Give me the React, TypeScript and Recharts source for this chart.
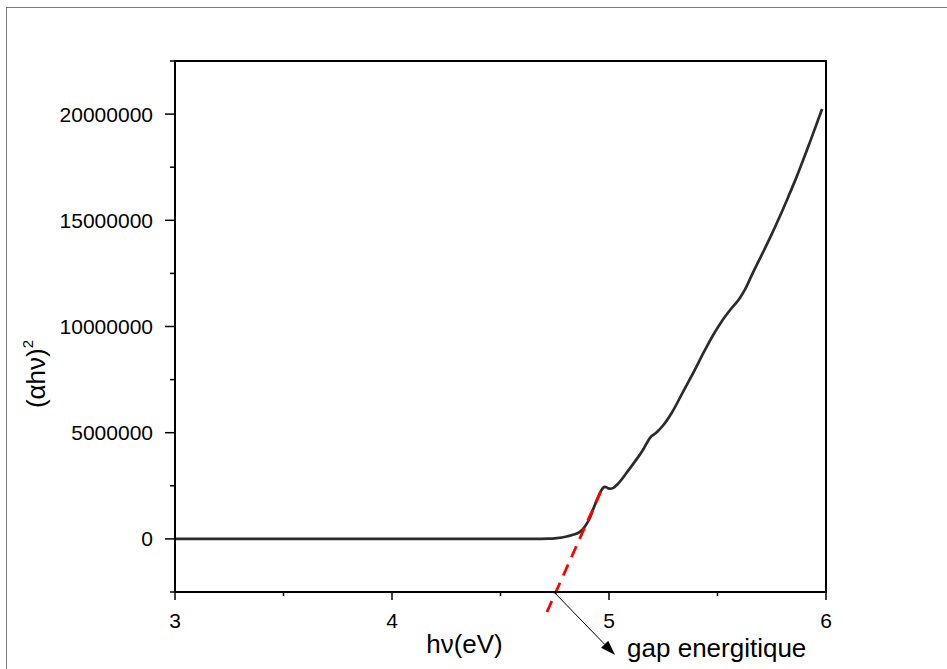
import { LineChart, Line, XAxis, YAxis, ReferenceLine, ReferenceArea } from 'recharts'

// photon energy (eV) and (alpha h nu)^2
const energy = [
  3.0, 3.25, 3.5, 3.75, 4.0, 4.25, 4.5, 4.65, 4.72, 4.76, 4.8, 4.83, 4.866, 4.89, 4.91, 4.926,
  4.945, 4.96, 4.972, 4.982, 4.993, 5.005, 5.02, 5.04, 5.06, 5.08, 5.12, 5.157, 5.189, 5.22,
  5.25, 5.29, 5.34, 5.39, 5.44, 5.48, 5.52, 5.56, 5.6, 5.627, 5.664, 5.71, 5.75, 5.788, 5.826,
  5.866, 5.926, 5.982,
]
const alphaHv2 = [
  0, 0, 0, 0, 0, 0, 0, 0, 10000, 40000, 100000, 180000, 330000, 600000, 950000, 1370000,
  1850000, 2200000, 2400000, 2450000, 2400000, 2360000, 2400000, 2580000, 2820000, 3100000, 3650000, 4200000, 4760000, 5020000,
  5350000, 5950000, 6900000, 7850000, 8850000, 9600000, 10250000, 10800000, 11300000, 11750000, 12550000, 13500000, 14350000, 15200000, 16100000,
  17080000, 18680000, 20240000,
]

const xTicks = [3, 3.5, 4, 4.5, 5, 5.5, 6]
const yTicks = [-2500000, 0, 2500000, 5000000, 7500000, 10000000, 12500000, 15000000, 17500000, 20000000, 22500000]
const xDomain = [3, 6]
const yDomain = [-2500000, 22500000]

// linear fit used to extrapolate the gap (two ends of the red dashed line)
const fitLine = [
  { x: 4.714, y: -3440000 },
  { x: 4.968, y: 2360000 },
]
// annotation arrow from the intercept to the label
const gapArrow = [
  { x: 4.751, y: -2550000 },
  { x: 5.028, y: -5470000 },
]

const data = energy.map((e, i) => ({ e, v: alphaHv2[i] }))

const FONT = '"Liberation Sans", Arial, Helvetica, sans-serif'

const XTick = ({ x, y, payload }: any) => {
  const major = Number.isInteger(payload.value)
  return (
    <g>
      <line x1={x} x2={x} y1={y} y2={y + (major ? 8 : 4)} stroke="#000" strokeWidth={1.5} />
      {major && (
        <text x={x} y={y + 36} textAnchor="middle" fontSize={21} fontFamily={FONT} fill="#000">
          {payload.value}
        </text>
      )}
    </g>
  )
}

const YTick = ({ x, y, payload }: any) => {
  const major = payload.value % 5000000 === 0
  return (
    <g>
      <line x1={x} x2={x - (major ? 10 : 5)} y1={y} y2={y} stroke="#000" strokeWidth={1.5} />
      {major && (
        <text x={x - 22} y={y + 7.5} textAnchor="end" fontSize={21} fontFamily={FONT} fill="#000">
          {payload.value}
        </text>
      )}
    </g>
  )
}

const YTitle = () => (
  <text
    x={45}
    y={374}
    transform="rotate(-90, 45, 374)"
    textAnchor="middle"
    fontSize={26}
    fontFamily={FONT}
    fill="#000"
  >
    (αhν)<tspan fontSize={15} dy={-12}>2</tspan>
  </text>
)

const XTitle = ({ viewBox }: any) => (
  <text
    x={viewBox.x + viewBox.width / 2 - 36}
    y={653}
    textAnchor="middle"
    fontSize={26}
    fontFamily={FONT}
    fill="#000"
  >
    hν(eV)
  </text>
)

const Arrow = ({ x1, y1, x2, y2 }: any) => {
  const a = Math.atan2(y2 - y1, x2 - x1)
  const len = 15
  const w = 5
  const bx = x2 - len * Math.cos(a)
  const by = y2 - len * Math.sin(a)
  const px = -Math.sin(a) * w
  const py = Math.cos(a) * w
  return (
    <g>
      <line x1={x1} y1={y1} x2={bx} y2={by} stroke="#000" strokeWidth={1} />
      <polygon points={`${x2},${y2} ${bx + px},${by + py} ${bx - px},${by - py}`} fill="#000" />
      <text x={x2 + 12} y={y2 + 2} fontSize={26} fontFamily={FONT} fill="#000">
        gap energitique
      </text>
    </g>
  )
}

export default function App() {
  return (
    <div style={{ position: 'absolute', left: 0, top: 0, width: 947, height: 669, overflow: 'hidden', background: '#fff' }}>
      <div
        style={{
          position: 'absolute',
          left: 6,
          top: 7,
          width: 1200,
          height: 1000,
          borderLeft: '1px solid #7a7a7a',
          borderTop: '1px solid #7a7a7a',
        }}
      />
      <LineChart
        width={947}
        height={669}
        data={data}
        margin={{ top: 61, right: 121, bottom: 17, left: 0 }}
        style={{ position: 'absolute', left: 0, top: 0 }}
      >
        <XAxis
          dataKey="e"
          type="number"
          domain={xDomain}
          ticks={xTicks}
          interval={0}
          allowDataOverflow
          height={60}
          tickSize={0}
          tickMargin={0}
          tickLine={false}
          tick={<XTick />}
          axisLine={{ stroke: '#000', strokeWidth: 2 }}
          label={<XTitle />}
        />
        <YAxis
          type="number"
          domain={yDomain}
          ticks={yTicks}
          interval={0}
          allowDataOverflow
          width={175}
          tickSize={0}
          tickMargin={0}
          tickLine={false}
          tick={<YTick />}
          axisLine={{ stroke: '#000', strokeWidth: 2 }}
          label={<YTitle />}
        />
        <ReferenceArea
          x1={xDomain[0]}
          x2={xDomain[1]}
          y1={yDomain[0]}
          y2={yDomain[1]}
          fill="none"
          stroke="#000"
          strokeWidth={2}
          fillOpacity={0}
        />
        <Line
          dataKey="v"
          type="monotone"
          stroke="#2b2b2b"
          strokeWidth={2.7}
          dot={false}
          isAnimationActive={false}
        />
        <ReferenceLine
          segment={fitLine}
          ifOverflow="visible"
          stroke="#ff0000"
          strokeWidth={2.8}
          strokeDasharray="12 8"
        />
        <ReferenceLine segment={gapArrow} ifOverflow="visible" shape={<Arrow />} />
      </LineChart>
    </div>
  )
}
